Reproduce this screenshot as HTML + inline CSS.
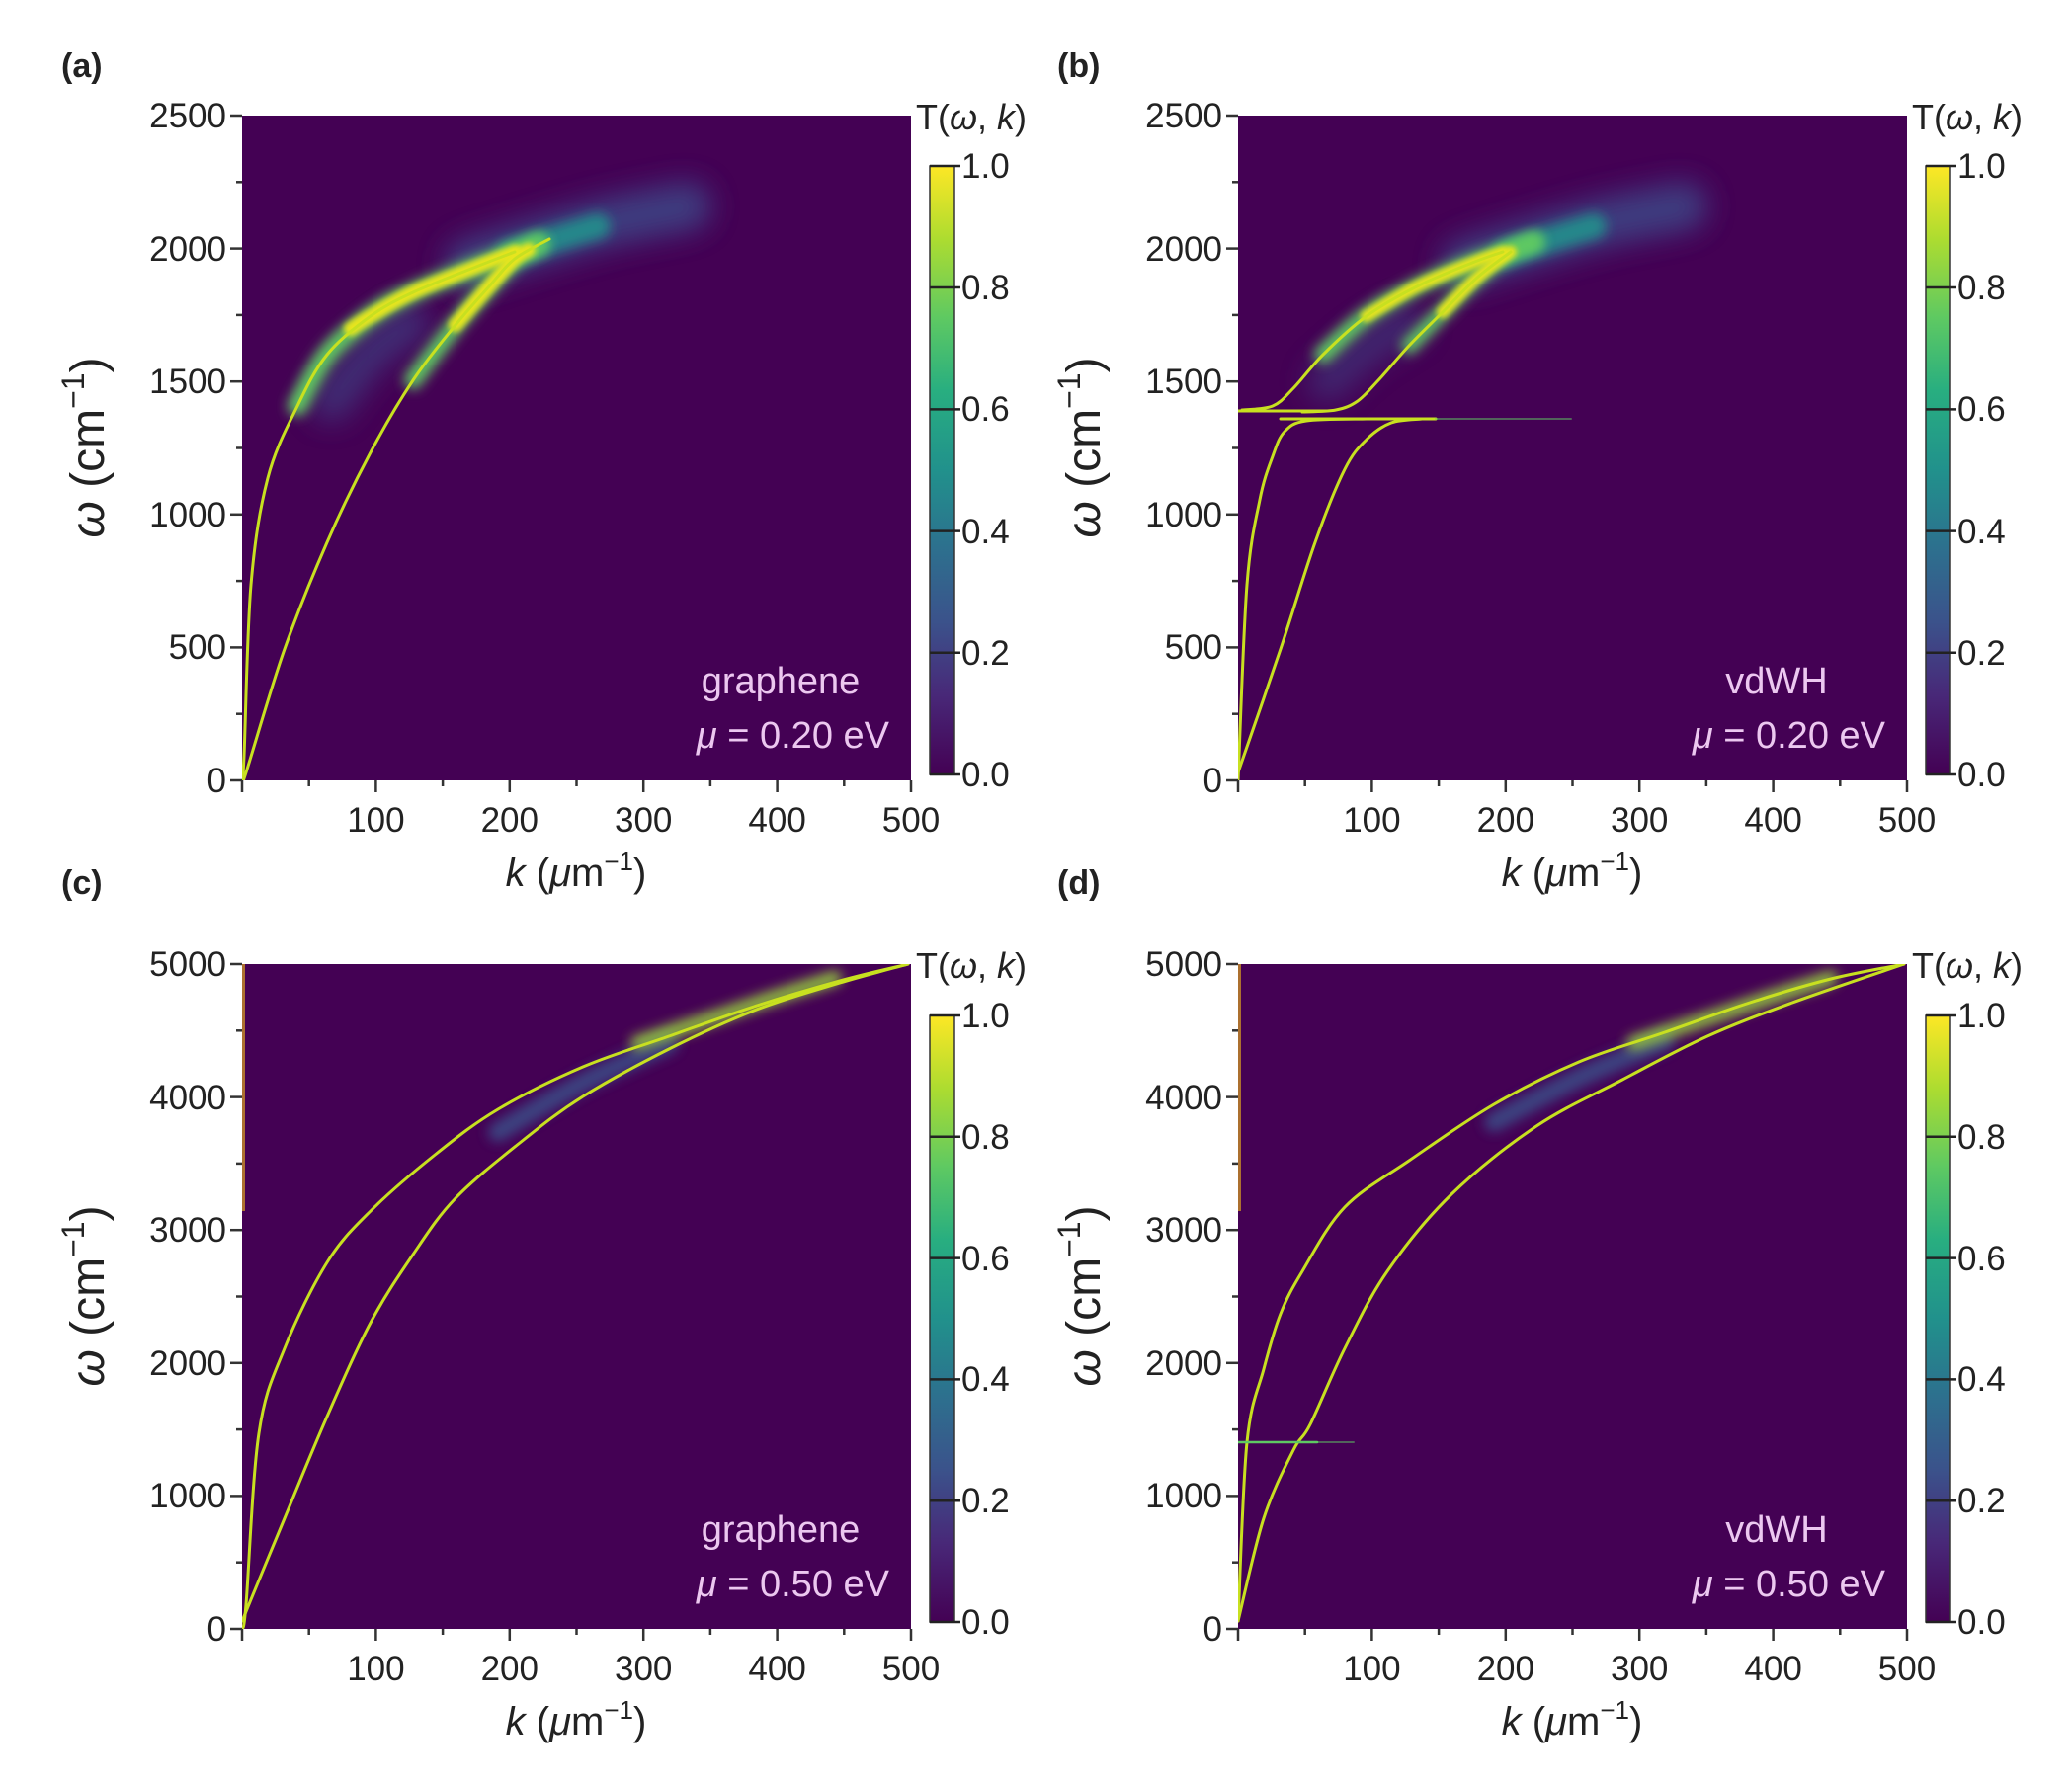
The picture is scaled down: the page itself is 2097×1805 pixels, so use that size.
<!DOCTYPE html>
<html><head><meta charset="utf-8"><style>
body{margin:0;background:#fff}
text{font-family:"Liberation Sans",sans-serif;fill:#222}
</style></head><body>
<svg width="2097" height="1800" viewBox="0 0 2097 1800" xmlns="http://www.w3.org/2000/svg">
<defs>
<linearGradient id="vir" x1="0" y1="1" x2="0" y2="0">
<stop offset="0" stop-color="#440154"/><stop offset="0.13" stop-color="#482878"/><stop offset="0.25" stop-color="#3b528b"/><stop offset="0.38" stop-color="#2c728e"/><stop offset="0.5" stop-color="#21918c"/><stop offset="0.63" stop-color="#28ae80"/><stop offset="0.75" stop-color="#5ec962"/><stop offset="0.88" stop-color="#addc30"/><stop offset="1" stop-color="#fde725"/>
</linearGradient>
<filter id="b3" filterUnits="userSpaceOnUse" x="-100" y="-100" width="900" height="900"><feGaussianBlur stdDeviation="3"/></filter>
<filter id="b6" filterUnits="userSpaceOnUse" x="-100" y="-100" width="900" height="900"><feGaussianBlur stdDeviation="6"/></filter>
<filter id="b14" filterUnits="userSpaceOnUse" x="-100" y="-100" width="900" height="900"><feGaussianBlur stdDeviation="14"/></filter>
<clipPath id="pc"><rect width="677" height="673"/></clipPath>
</defs>

<!-- Panel (a) -->
<text x="62" y="78" font-size="34" font-weight="bold">(a)</text>
<g transform="translate(245,117)">
<rect width="677" height="673" fill="#440154"/>
<g fill="none" stroke-linecap="round" stroke-linejoin="round" clip-path="url(#pc)">
<polyline class="s" points="230,150 300,128 370,108 450,92" stroke="#3e4c8a" stroke-width="50" opacity="0.8" filter="url(#b14)"/>
<polyline class="s" points="90,290 130,240 170,210" stroke="#3e4c8a" stroke-width="40" opacity="0.6" filter="url(#b14)"/>
<polyline class="s" points="270,140 320,124 360,112" stroke="#21918c" stroke-width="26" opacity="0.9" filter="url(#b6)"/>
<polyline class="s" points="56,294 86,242 130,203 173,179 237,153 276,138 300,130" stroke="#5ec962" stroke-width="20" filter="url(#b6)"/>
<polyline class="s" points="173,268 216,212 250,173 276,145 300,130" stroke="#5ec962" stroke-width="18" filter="url(#b6)"/>
<polyline class="s" points="110,216 130,203 173,179 237,153 276,138" stroke="#e8e51a" stroke-width="14" filter="url(#b3)"/>
<polyline class="s" points="216,212 250,173 276,145 290,136" stroke="#e8e51a" stroke-width="14" filter="url(#b3)"/>
<polyline class="s" points="0,673 2,648 9,475 26,367 56,294 86,242 130,203 173,179 237,153 276,138" stroke="#c8e020" stroke-width="3"/>
<polyline class="s" points="0,673 4,665 43,540 86,432 130,341 173,268 216,212 250,173 276,145 311,125" stroke="#c8e020" stroke-width="3"/>
</g>
</g>

<!-- Panel (b) -->
<text x="1070" y="78" font-size="34" font-weight="bold">(b)</text>
<g transform="translate(1253,117)">
<rect width="677" height="673" fill="#440154"/>
<g fill="none" stroke-linecap="round" stroke-linejoin="round" clip-path="url(#pc)">
<polyline class="s" points="230,150 300,128 370,108 450,92" stroke="#3e4c8a" stroke-width="50" opacity="0.8" filter="url(#b14)"/>
<polyline class="s" points="90,270 130,235 170,210" stroke="#3e4c8a" stroke-width="40" opacity="0.5" filter="url(#b14)"/>
<polyline class="s" points="270,140 320,124 360,112" stroke="#21918c" stroke-width="26" opacity="0.9" filter="url(#b6)"/>
<polyline class="s" points="86,242 130,203 181,173 237,149 268,138 300,128" stroke="#5ec962" stroke-width="18" filter="url(#b6)"/>
<polyline class="s" points="173,233 207,199 242,164 276,138 300,128" stroke="#5ec962" stroke-width="16" filter="url(#b6)"/>
<polyline class="s" points="130,203 181,173 237,149 268,138" stroke="#e8e51a" stroke-width="12" filter="url(#b3)"/>
<polyline class="s" points="207,199 242,164 276,138" stroke="#e8e51a" stroke-width="12" filter="url(#b3)"/>
<polyline class="s" points="4,298 35,294 56,276 86,242 130,203 181,173 237,149 268,138" stroke="#c8e020" stroke-width="3"/>
<polyline points="0,299 90,299" stroke="#c8e020" stroke-width="3"/>
<polyline class="s" points="65,300 99,298 121,289 142,268 173,233 207,199 242,164 276,138" stroke="#c8e020" stroke-width="3"/>
<polyline points="43,307 200,307" stroke="#c8e020" stroke-width="3"/>
<polyline points="200,307 337,307" stroke="#5ec962" stroke-width="2" opacity="0.5"/>
<polyline class="s" points="0,673 9,475 22,389 35,345 47,320 69,309 130,307" stroke="#c8e020" stroke-width="3"/>
<polyline class="s" points="0,665 43,540 78,432 108,358 130,328 155,311 186,307" stroke="#c8e020" stroke-width="3"/>
</g>
</g>

<!-- Panel (c) -->
<text x="62" y="905" font-size="34" font-weight="bold">(c)</text>
<g transform="translate(245,976)">
<rect width="677" height="673" fill="#440154"/>
<rect x="0" y="0" width="3" height="250" fill="#d8a020" opacity="0.7"/>
<g fill="none" stroke-linecap="round" stroke-linejoin="round" clip-path="url(#pc)">
<polyline class="s" points="259,170 345,120 432,80" stroke="#3b528b" stroke-width="20" opacity="0.8" filter="url(#b6)"/>
<polyline class="s" points="400,80 475,55 540,33 600,14" stroke="#9bd93c" stroke-width="14" opacity="0.9" filter="url(#b6)"/>
<polyline class="s" points="0,673 4,648 17,475 43,389 86,302 130,250 194,194 259,147 345,104 432,73 518,43 605,17 674,0" stroke="#c8e020" stroke-width="3"/>
<polyline class="s" points="0,665 43,561 86,458 130,363 173,294 216,237 281,181 345,134 432,86 518,47 605,19 674,0" stroke="#c8e020" stroke-width="3"/>
</g>
</g>

<!-- Panel (d) -->
<text x="1070" y="905" font-size="34" font-weight="bold">(d)</text>
<g transform="translate(1253,976)">
<rect width="677" height="673" fill="#440154"/>
<rect x="0" y="0" width="3" height="250" fill="#d8a020" opacity="0.7"/>
<g fill="none" stroke-linecap="round" stroke-linejoin="round" clip-path="url(#pc)">
<polyline class="s" points="259,160 345,115 432,78" stroke="#3b528b" stroke-width="20" opacity="0.8" filter="url(#b6)"/>
<polyline class="s" points="400,80 475,55 540,33 600,14" stroke="#9bd93c" stroke-width="14" opacity="0.9" filter="url(#b6)"/>
<polyline class="s" points="0,665 9,484 26,410 43,354 65,311 108,246 173,199 259,142 345,99 432,69 518,39 600,15 674,0" stroke="#c8e020" stroke-width="3"/>
<polyline class="s" points="0,665 26,561 56,492 73,466 108,389 151,311 216,233 302,164 389,117 475,73 561,39 674,0" stroke="#c8e020" stroke-width="3"/>
<polyline points="0,484 80,484" stroke="#5ec962" stroke-width="2.5"/>
<polyline points="80,484 117,484" stroke="#5ec962" stroke-width="2" opacity="0.5"/>
</g>
</g>

<!-- axes (a) -->
<g transform="translate(245,117)">
<g stroke="#333" stroke-width="2.5">
<line x1="-12" y1="0" x2="0" y2="0"/><line x1="-12" y1="134.6" x2="0" y2="134.6"/><line x1="-12" y1="269.2" x2="0" y2="269.2"/><line x1="-12" y1="403.8" x2="0" y2="403.8"/><line x1="-12" y1="538.4" x2="0" y2="538.4"/><line x1="-12" y1="673" x2="0" y2="673"/>
<line x1="-6" y1="67.3" x2="0" y2="67.3"/><line x1="-6" y1="201.9" x2="0" y2="201.9"/><line x1="-6" y1="336.5" x2="0" y2="336.5"/><line x1="-6" y1="471.1" x2="0" y2="471.1"/><line x1="-6" y1="605.7" x2="0" y2="605.7"/>
<line x1="0" y1="673" x2="0" y2="685"/><line x1="135.4" y1="673" x2="135.4" y2="685"/><line x1="270.8" y1="673" x2="270.8" y2="685"/><line x1="406.2" y1="673" x2="406.2" y2="685"/><line x1="541.6" y1="673" x2="541.6" y2="685"/><line x1="677" y1="673" x2="677" y2="685"/>
<line x1="67.7" y1="673" x2="67.7" y2="679"/><line x1="203.1" y1="673" x2="203.1" y2="679"/><line x1="338.5" y1="673" x2="338.5" y2="679"/><line x1="473.9" y1="673" x2="473.9" y2="679"/><line x1="609.3" y1="673" x2="609.3" y2="679"/>
</g>
<g font-size="35" text-anchor="end">
<text x="-16" y="12">2500</text><text x="-16" y="147">2000</text><text x="-16" y="281">1500</text><text x="-16" y="416">1000</text><text x="-16" y="550">500</text><text x="-16" y="685">0</text>
</g>
<g font-size="35" text-anchor="middle">
<text x="135.4" y="725">100</text><text x="270.8" y="725">200</text><text x="406.2" y="725">300</text><text x="541.6" y="725">400</text><text x="677" y="725">500</text>
</g>
<text x="338" y="780" font-size="40" text-anchor="middle"><tspan font-style="italic">k</tspan> (<tspan font-style="italic">μ</tspan>m<tspan dy="-16" font-size="26">−1</tspan><tspan dy="16">)</tspan></text>
<text transform="translate(-140,336) rotate(-90)" font-size="48" text-anchor="middle"><tspan font-style="italic">ω</tspan> (cm<tspan dy="-20" font-size="32">−1</tspan><tspan dy="20">)</tspan></text>
<text x="682" y="14" font-size="36">T(<tspan font-style="italic">ω</tspan>, <tspan font-style="italic">k</tspan>)</text>
<rect x="696" y="51" width="25" height="616" fill="url(#vir)" stroke="#333" stroke-width="1.5"/>
<g stroke="#222" stroke-width="2.5"><line x1="696" y1="51" x2="727" y2="51"/><line x1="696" y1="174" x2="727" y2="174"/><line x1="696" y1="297.4" x2="727" y2="297.4"/><line x1="696" y1="420.6" x2="727" y2="420.6"/><line x1="696" y1="543.8" x2="727" y2="543.8"/><line x1="696" y1="667" x2="727" y2="667"/></g>
<g font-size="35"><text x="728" y="63">1.0</text><text x="728" y="186">0.8</text><text x="728" y="309">0.6</text><text x="728" y="433">0.4</text><text x="728" y="556">0.2</text><text x="728" y="679">0.0</text></g>
<text x="545" y="585" font-size="38" text-anchor="middle" style="fill:#ecc8f0">graphene</text>
<text x="655" y="640" font-size="38" text-anchor="end" style="fill:#ecc8f0"><tspan font-style="italic">μ</tspan> = 0.20 eV</text>
</g>

<g transform="translate(1253,117)">
<g stroke="#333" stroke-width="2.5">
<line x1="-12" y1="0" x2="0" y2="0"/><line x1="-12" y1="134.6" x2="0" y2="134.6"/><line x1="-12" y1="269.2" x2="0" y2="269.2"/><line x1="-12" y1="403.8" x2="0" y2="403.8"/><line x1="-12" y1="538.4" x2="0" y2="538.4"/><line x1="-12" y1="673" x2="0" y2="673"/>
<line x1="-6" y1="67.3" x2="0" y2="67.3"/><line x1="-6" y1="201.9" x2="0" y2="201.9"/><line x1="-6" y1="336.5" x2="0" y2="336.5"/><line x1="-6" y1="471.1" x2="0" y2="471.1"/><line x1="-6" y1="605.7" x2="0" y2="605.7"/>
<line x1="0" y1="673" x2="0" y2="685"/><line x1="135.4" y1="673" x2="135.4" y2="685"/><line x1="270.8" y1="673" x2="270.8" y2="685"/><line x1="406.2" y1="673" x2="406.2" y2="685"/><line x1="541.6" y1="673" x2="541.6" y2="685"/><line x1="677" y1="673" x2="677" y2="685"/>
<line x1="67.7" y1="673" x2="67.7" y2="679"/><line x1="203.1" y1="673" x2="203.1" y2="679"/><line x1="338.5" y1="673" x2="338.5" y2="679"/><line x1="473.9" y1="673" x2="473.9" y2="679"/><line x1="609.3" y1="673" x2="609.3" y2="679"/>
</g>
<g font-size="35" text-anchor="end">
<text x="-16" y="12">2500</text><text x="-16" y="147">2000</text><text x="-16" y="281">1500</text><text x="-16" y="416">1000</text><text x="-16" y="550">500</text><text x="-16" y="685">0</text>
</g>
<g font-size="35" text-anchor="middle">
<text x="135.4" y="725">100</text><text x="270.8" y="725">200</text><text x="406.2" y="725">300</text><text x="541.6" y="725">400</text><text x="677" y="725">500</text>
</g>
<text x="338" y="780" font-size="40" text-anchor="middle"><tspan font-style="italic">k</tspan> (<tspan font-style="italic">μ</tspan>m<tspan dy="-16" font-size="26">−1</tspan><tspan dy="16">)</tspan></text>
<text transform="translate(-140,336) rotate(-90)" font-size="48" text-anchor="middle"><tspan font-style="italic">ω</tspan> (cm<tspan dy="-20" font-size="32">−1</tspan><tspan dy="20">)</tspan></text>
<text x="682" y="14" font-size="36">T(<tspan font-style="italic">ω</tspan>, <tspan font-style="italic">k</tspan>)</text>
<rect x="696" y="51" width="25" height="616" fill="url(#vir)" stroke="#333" stroke-width="1.5"/>
<g stroke="#222" stroke-width="2.5"><line x1="696" y1="51" x2="727" y2="51"/><line x1="696" y1="174" x2="727" y2="174"/><line x1="696" y1="297.4" x2="727" y2="297.4"/><line x1="696" y1="420.6" x2="727" y2="420.6"/><line x1="696" y1="543.8" x2="727" y2="543.8"/><line x1="696" y1="667" x2="727" y2="667"/></g>
<g font-size="35"><text x="728" y="63">1.0</text><text x="728" y="186">0.8</text><text x="728" y="309">0.6</text><text x="728" y="433">0.4</text><text x="728" y="556">0.2</text><text x="728" y="679">0.0</text></g>
<text x="545" y="585" font-size="38" text-anchor="middle" style="fill:#ecc8f0">vdWH</text>
<text x="655" y="640" font-size="38" text-anchor="end" style="fill:#ecc8f0"><tspan font-style="italic">μ</tspan> = 0.20 eV</text>
</g>

<g transform="translate(245,976)">
<g stroke="#333" stroke-width="2.5">
<line x1="-12" y1="0" x2="0" y2="0"/><line x1="-12" y1="134.6" x2="0" y2="134.6"/><line x1="-12" y1="269.2" x2="0" y2="269.2"/><line x1="-12" y1="403.8" x2="0" y2="403.8"/><line x1="-12" y1="538.4" x2="0" y2="538.4"/><line x1="-12" y1="673" x2="0" y2="673"/>
<line x1="-6" y1="67.3" x2="0" y2="67.3"/><line x1="-6" y1="201.9" x2="0" y2="201.9"/><line x1="-6" y1="336.5" x2="0" y2="336.5"/><line x1="-6" y1="471.1" x2="0" y2="471.1"/><line x1="-6" y1="605.7" x2="0" y2="605.7"/>
<line x1="0" y1="673" x2="0" y2="685"/><line x1="135.4" y1="673" x2="135.4" y2="685"/><line x1="270.8" y1="673" x2="270.8" y2="685"/><line x1="406.2" y1="673" x2="406.2" y2="685"/><line x1="541.6" y1="673" x2="541.6" y2="685"/><line x1="677" y1="673" x2="677" y2="685"/>
<line x1="67.7" y1="673" x2="67.7" y2="679"/><line x1="203.1" y1="673" x2="203.1" y2="679"/><line x1="338.5" y1="673" x2="338.5" y2="679"/><line x1="473.9" y1="673" x2="473.9" y2="679"/><line x1="609.3" y1="673" x2="609.3" y2="679"/>
</g>
<g font-size="35" text-anchor="end">
<text x="-16" y="12">5000</text><text x="-16" y="147">4000</text><text x="-16" y="281">3000</text><text x="-16" y="416">2000</text><text x="-16" y="550">1000</text><text x="-16" y="685">0</text>
</g>
<g font-size="35" text-anchor="middle">
<text x="135.4" y="725">100</text><text x="270.8" y="725">200</text><text x="406.2" y="725">300</text><text x="541.6" y="725">400</text><text x="677" y="725">500</text>
</g>
<text x="338" y="780" font-size="40" text-anchor="middle"><tspan font-style="italic">k</tspan> (<tspan font-style="italic">μ</tspan>m<tspan dy="-16" font-size="26">−1</tspan><tspan dy="16">)</tspan></text>
<text transform="translate(-140,336) rotate(-90)" font-size="48" text-anchor="middle"><tspan font-style="italic">ω</tspan> (cm<tspan dy="-20" font-size="32">−1</tspan><tspan dy="20">)</tspan></text>
<text x="682" y="14" font-size="36">T(<tspan font-style="italic">ω</tspan>, <tspan font-style="italic">k</tspan>)</text>
<rect x="696" y="52" width="25" height="614" fill="url(#vir)" stroke="#333" stroke-width="1.5"/>
<g stroke="#222" stroke-width="2.5"><line x1="696" y1="52" x2="727" y2="52"/><line x1="696" y1="174.8" x2="727" y2="174.8"/><line x1="696" y1="297.6" x2="727" y2="297.6"/><line x1="696" y1="420.4" x2="727" y2="420.4"/><line x1="696" y1="543.2" x2="727" y2="543.2"/><line x1="696" y1="666" x2="727" y2="666"/></g>
<g font-size="35"><text x="728" y="64">1.0</text><text x="728" y="187">0.8</text><text x="728" y="310">0.6</text><text x="728" y="432">0.4</text><text x="728" y="555">0.2</text><text x="728" y="678">0.0</text></g>
<text x="545" y="585" font-size="38" text-anchor="middle" style="fill:#ecc8f0">graphene</text>
<text x="655" y="640" font-size="38" text-anchor="end" style="fill:#ecc8f0"><tspan font-style="italic">μ</tspan> = 0.50 eV</text>
</g>

<g transform="translate(1253,976)">
<g stroke="#333" stroke-width="2.5">
<line x1="-12" y1="0" x2="0" y2="0"/><line x1="-12" y1="134.6" x2="0" y2="134.6"/><line x1="-12" y1="269.2" x2="0" y2="269.2"/><line x1="-12" y1="403.8" x2="0" y2="403.8"/><line x1="-12" y1="538.4" x2="0" y2="538.4"/><line x1="-12" y1="673" x2="0" y2="673"/>
<line x1="-6" y1="67.3" x2="0" y2="67.3"/><line x1="-6" y1="201.9" x2="0" y2="201.9"/><line x1="-6" y1="336.5" x2="0" y2="336.5"/><line x1="-6" y1="471.1" x2="0" y2="471.1"/><line x1="-6" y1="605.7" x2="0" y2="605.7"/>
<line x1="0" y1="673" x2="0" y2="685"/><line x1="135.4" y1="673" x2="135.4" y2="685"/><line x1="270.8" y1="673" x2="270.8" y2="685"/><line x1="406.2" y1="673" x2="406.2" y2="685"/><line x1="541.6" y1="673" x2="541.6" y2="685"/><line x1="677" y1="673" x2="677" y2="685"/>
<line x1="67.7" y1="673" x2="67.7" y2="679"/><line x1="203.1" y1="673" x2="203.1" y2="679"/><line x1="338.5" y1="673" x2="338.5" y2="679"/><line x1="473.9" y1="673" x2="473.9" y2="679"/><line x1="609.3" y1="673" x2="609.3" y2="679"/>
</g>
<g font-size="35" text-anchor="end">
<text x="-16" y="12">5000</text><text x="-16" y="147">4000</text><text x="-16" y="281">3000</text><text x="-16" y="416">2000</text><text x="-16" y="550">1000</text><text x="-16" y="685">0</text>
</g>
<g font-size="35" text-anchor="middle">
<text x="135.4" y="725">100</text><text x="270.8" y="725">200</text><text x="406.2" y="725">300</text><text x="541.6" y="725">400</text><text x="677" y="725">500</text>
</g>
<text x="338" y="780" font-size="40" text-anchor="middle"><tspan font-style="italic">k</tspan> (<tspan font-style="italic">μ</tspan>m<tspan dy="-16" font-size="26">−1</tspan><tspan dy="16">)</tspan></text>
<text transform="translate(-140,336) rotate(-90)" font-size="48" text-anchor="middle"><tspan font-style="italic">ω</tspan> (cm<tspan dy="-20" font-size="32">−1</tspan><tspan dy="20">)</tspan></text>
<text x="682" y="14" font-size="36">T(<tspan font-style="italic">ω</tspan>, <tspan font-style="italic">k</tspan>)</text>
<rect x="696" y="52" width="25" height="614" fill="url(#vir)" stroke="#333" stroke-width="1.5"/>
<g stroke="#222" stroke-width="2.5"><line x1="696" y1="52" x2="727" y2="52"/><line x1="696" y1="174.8" x2="727" y2="174.8"/><line x1="696" y1="297.6" x2="727" y2="297.6"/><line x1="696" y1="420.4" x2="727" y2="420.4"/><line x1="696" y1="543.2" x2="727" y2="543.2"/><line x1="696" y1="666" x2="727" y2="666"/></g>
<g font-size="35"><text x="728" y="64">1.0</text><text x="728" y="187">0.8</text><text x="728" y="310">0.6</text><text x="728" y="432">0.4</text><text x="728" y="555">0.2</text><text x="728" y="678">0.0</text></g>
<text x="545" y="585" font-size="38" text-anchor="middle" style="fill:#ecc8f0">vdWH</text>
<text x="655" y="640" font-size="38" text-anchor="end" style="fill:#ecc8f0"><tspan font-style="italic">μ</tspan> = 0.50 eV</text>
</g>
</svg>
<script>
(function(){
var ns="http://www.w3.org/2000/svg";
document.querySelectorAll("polyline.s").forEach(function(pl){
var n=pl.getAttribute("points").trim().split(/\s+/).map(function(s){var a=s.split(",");return [+a[0],+a[1]];});
if(n.length<3)return;
var d="M"+n[0][0]+","+n[0][1];
for(var i=0;i<n.length-1;i++){
var p0=n[i-1]||n[i],p1=n[i],p2=n[i+1],p3=n[i+2]||p2;
var c1=[p1[0]+(p2[0]-p0[0])/6,p1[1]+(p2[1]-p0[1])/6];
var c2=[p2[0]-(p3[0]-p1[0])/6,p2[1]-(p3[1]-p1[1])/6];
d+=" C"+c1[0].toFixed(1)+","+c1[1].toFixed(1)+" "+c2[0].toFixed(1)+","+c2[1].toFixed(1)+" "+p2[0]+","+p2[1];
}
var p=document.createElementNS(ns,"path");
for(var j=0;j<pl.attributes.length;j++){var at=pl.attributes[j];if(at.name!=="points"&&at.name!=="class")p.setAttribute(at.name,at.value);}
p.setAttribute("d",d);
pl.parentNode.replaceChild(p,pl);
});
})();
</script>
</body></html>
